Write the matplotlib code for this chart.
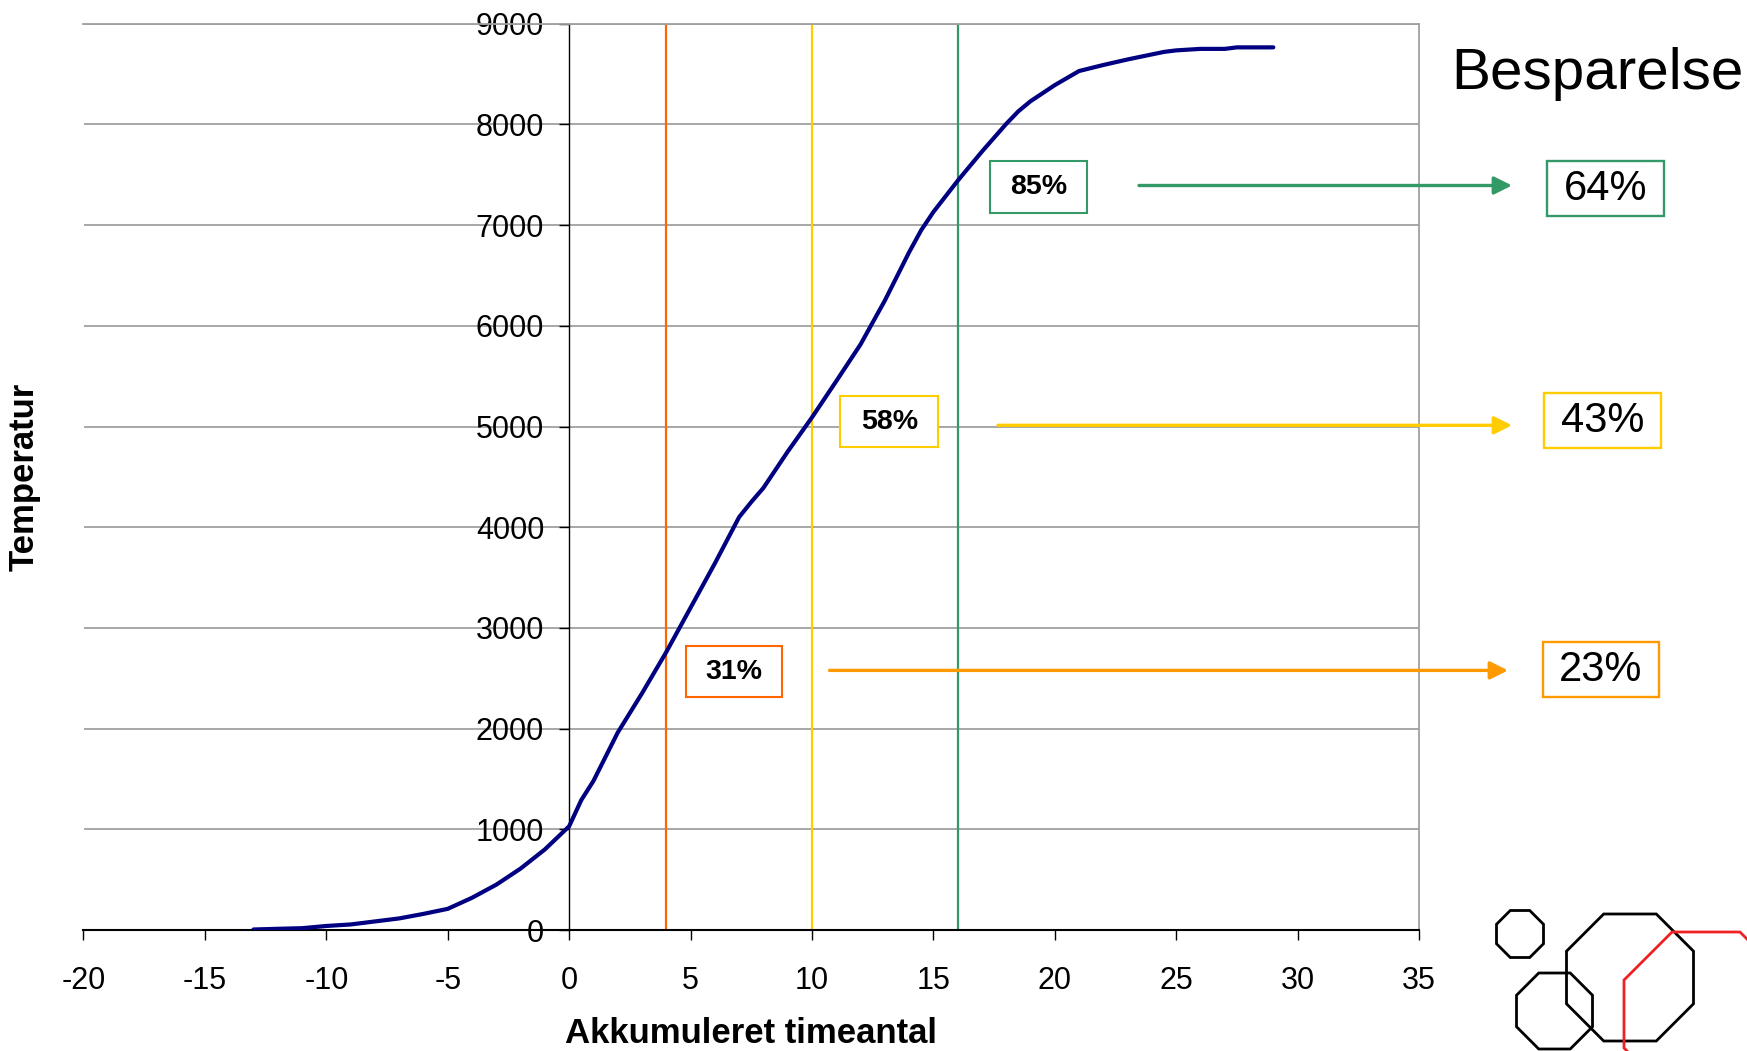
import matplotlib
matplotlib.use('Agg')
import matplotlib.pyplot as plt
from matplotlib.patches import Rectangle, RegularPolygon
import numpy as np

plt.rcParams['font.family'] = ['Liberation Sans', 'DejaVu Sans']
plt.rcParams['axes.unicode_minus'] = False

# Data
hours = [-13, -12, -11, -10, -9, -8, -7, -6, -5, -4, -3, -2, -1,
         0, 0.5, 1, 2, 3, 4, 5, 6, 7, 7.5, 8,
         9, 10, 11, 12, 13, 14, 14.5, 15,
         16, 17, 18, 18.5, 19, 20, 21, 22, 23, 24, 24.5, 25, 26, 27, 27.5, 29]
temps = [5, 12, 18, 40, 55, 85, 115, 160, 210, 320, 450, 610, 800,
         1030, 1290, 1480, 1960, 2350, 2760, 3200, 3640, 4100, 4250, 4390,
         4750, 5090, 5450, 5815, 6250, 6730, 6950, 7130,
         7440, 7730, 8005, 8130, 8230, 8390, 8530, 8590, 8645, 8695, 8720, 8735, 8750, 8750, 8765, 8765]

limits = [4, 10, 16]
limit_colors = ['#FF6600', '#FFCC00', '#339966']
shares = ['31%', '58%', '85%']
savings = ['23%', '43%', '64%']
arrow_colors = ['#FF9900', '#FFCC00', '#339966']

x_ticks = list(range(-20, 36, 5))
y_ticks = list(range(0, 9001, 1000))

W, H = 1747, 1051
fig = plt.figure(figsize=(W / 100, H / 100), dpi=100)
ax = fig.add_axes([83.5 / W, 1 - 930 / H, (1419 - 83.5) / W, (930 - 23.7) / H])

ax.set_xlim(-20, 35)
ax.set_ylim(0, 9000)
ax.set_xticks(x_ticks)
ax.set_yticks(y_ticks)
ax.grid(axis='y', color='#a0a0a0', linewidth=1.3)
ax.set_axisbelow(True)

# Excel-like frame: gray plot area border, black axes crossing at 0
ax.spines['left'].set_position(('data', 0))
ax.spines['left'].set_color('black')
ax.spines['left'].set_linewidth(1.0)
ax.spines['bottom'].set_color('black')
ax.spines['bottom'].set_linewidth(1.5)
for side in ['top', 'right']:
    ax.spines[side].set_color('#a0a0a0')
    ax.spines[side].set_linewidth(1.3)
ax.axvline(-20, color='#a0a0a0', linewidth=1.3, zorder=0)

ax.tick_params(axis='both', direction='out', length=7, width=1, color='black', labelsize=22)
ax.tick_params(axis='y', pad=11)
ax.tick_params(axis='x', pad=19)

ax.set_xlabel('Akkumuleret timeantal', fontsize=25, fontweight='bold')
ax.set_ylabel('Temperatur', fontsize=25, fontweight='bold')
ax.xaxis.set_label_coords(0.5, (930 - 1017) / (930 - 23.7))
ax.yaxis.set_label_coords((41 - 83.5) / (1419 - 83.5), 0.5)

# Threshold lines
for lim, col in zip(limits, limit_colors):
    ax.axvline(lim, color=col, linewidth=1.6, zorder=2)

# Curve
ax.plot(hours, temps, color='#000080', linewidth=3.0, zorder=3,
        solid_joinstyle='round', solid_capstyle='round')

# Overlay in pixel coordinates for annotations
ov = fig.add_axes([0, 0, 1, 1])
ov.set_xlim(0, W)
ov.set_ylim(H, 0)
ov.axis('off')
ov.patch.set_alpha(0)

# left share boxes (center x, center y, width, height)
share_boxes = [(734, 671, 96, 51), (889.5, 421, 98, 51), (1039, 186.5, 97, 52)]
for (cx, cy, bw, bh), txt, col in zip(share_boxes, shares, limit_colors):
    ov.add_patch(Rectangle((cx - bw / 2, cy - bh / 2), bw, bh, facecolor='white',
                           edgecolor=col, linewidth=1.5, zorder=4))
    ov.text(cx, cy + 1, txt, ha='center', va='center', fontsize=20.5,
            fontweight='bold', zorder=5)

# arrows to savings boxes (start x, end x, y)
arrows = [(829.5, 1508, 670.4), (998, 1512, 425.3), (1139, 1512, 185.5)]
for (x0, x1, y), col in zip(arrows, arrow_colors):
    ov.annotate('', xy=(x1, y), xytext=(x0, y),
                arrowprops=dict(arrowstyle='-|>', color=col, lw=2.4,
                                mutation_scale=27, shrinkA=0, shrinkB=0))

save_boxes = [(1601, 669, 116, 55), (1602.5, 420.5, 117, 55), (1606, 188.5, 117, 55)]
for (cx, cy, bw, bh), txt, col in zip(save_boxes, savings, arrow_colors):
    ov.add_patch(Rectangle((cx - bw / 2, cy - bh / 2), bw, bh, facecolor='white',
                           edgecolor=col, linewidth=1.7, zorder=4))
    ov.text(cx, cy + 1, txt, ha='center', va='center', fontsize=30, zorder=5)

ov.text(1451.7, 89.3, 'Besparelse', ha='left', va='baseline', fontsize=42)

# logo octagons (center x, center y, flat-to-flat width, colour)
octagons = [(1520, 934, 47, 'black'), (1630, 977.5, 127, 'black'),
            (1554.5, 1011, 76, 'black'), (1706, 1014, 164, '#ee2222')]
for cx, cy, w, col in octagons:
    r = w / 2 / np.cos(np.pi / 8)
    ov.add_patch(RegularPolygon((cx, cy), numVertices=8, radius=r,
                                orientation=np.pi / 8, fill=False,
                                edgecolor=col, linewidth=2.0, zorder=3))

fig.savefig('out.png', dpi=100)
